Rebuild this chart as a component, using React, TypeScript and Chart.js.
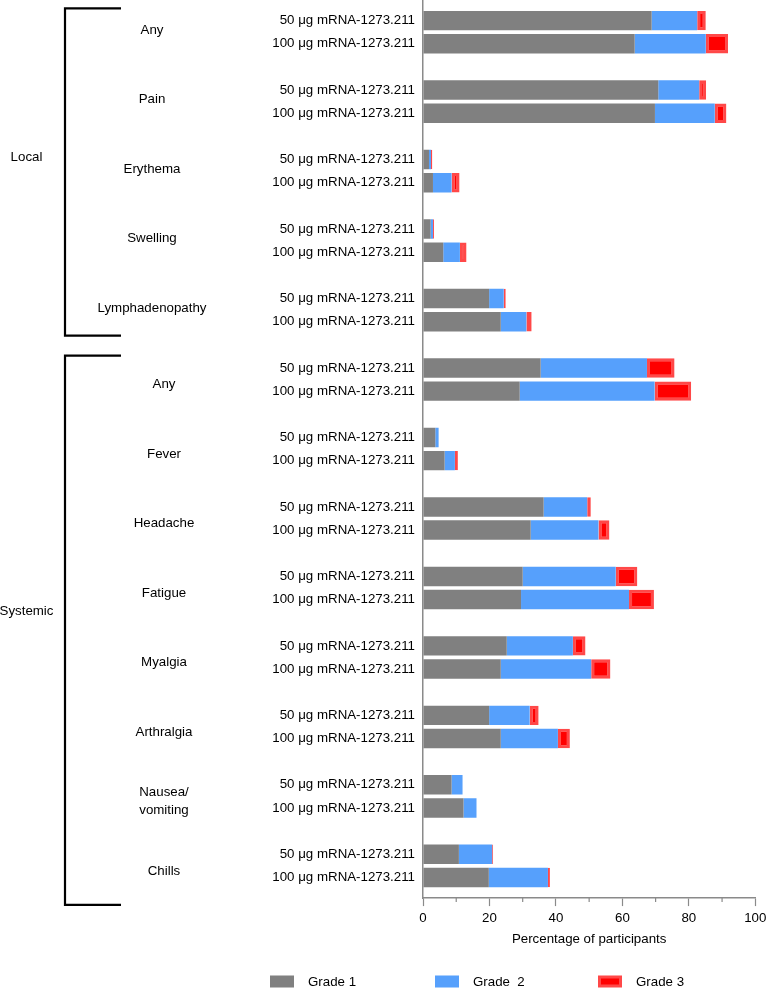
import React, { useEffect, useRef } from 'react';
import { Chart, registerables } from 'chart.js';

Chart.register(...registerables);

// ---------- data ----------
const localCategories = ['Any', 'Pain', 'Erythema', 'Swelling', 'Lymphadenopathy'];
const systemicCategories = ['Any', 'Fever', 'Headache', 'Fatigue', 'Myalgia', 'Arthralgia', 'Nausea/\nvomiting', 'Chills'];
const groupNames = ['Local', 'Systemic'];
const doseLabels = ['50 μg mRNA-1273.211', '100 μg mRNA-1273.211'];
const seriesNames = ['Grade 1', 'Grade  2', 'Grade 3'];
const xTicks = [0, 20, 40, 60, 80, 100];
const xMinorTicks = [10, 30, 50, 70, 90];
const axisTitle = 'Percentage of participants';

// one value per category (Local then Systemic), percent of participants
const grade1Dose50 = [68.8, 70.8, 1.8, 2.3, 19.9, 35.4, 3.7, 36.3, 30.0, 25.2, 19.9, 8.6, 10.8];
const grade1Dose100 = [63.7, 69.8, 3.0, 6.1, 23.4, 29.1, 6.5, 32.4, 29.5, 23.4, 23.4, 12.2, 19.8];
const grade2Dose50 = [13.7, 12.3, 0.6, 0.7, 4.4, 32.0, 1.0, 13.1, 28.0, 19.9, 12.2, 3.3, 10.0];
const grade2Dose100 = [21.4, 18.0, 5.6, 5.0, 7.7, 40.6, 3.1, 20.4, 32.5, 27.2, 17.2, 3.9, 17.8];
const grade3Dose50 = [2.6, 2.1, 0.4, 0.3, 0.6, 8.3, 0, 1.1, 6.5, 3.8, 2.7, 0, 0.3];
const grade3Dose100 = [6.7, 3.5, 2.4, 2.0, 1.6, 11.0, 0.9, 3.3, 7.5, 5.8, 3.6, 0, 0.6];

// ---------- styling / layout ----------
const FONT = '"Liberation Sans", Arial, Helvetica, sans-serif';
const FS = 13.3;
const GREY = '#808080';
const BLUE = '#56A0FC';
const RED = '#FF0000';
const RED_EDGE = '#FF4848';
const AXIS = '#8a8a8a';

const W = 766;
const H = 989;
const Y_MIN = -0.89;
const Y_MAX = 37.89;
const SLOTS = 3; // 50, 100, gap

const allCategories = [...localCategories, ...systemicCategories];
const groupOfCategory = allCategories.map((_, i) => (i < localCategories.length ? 0 : 1));

const rowPos = (g: number, dose: number) => g * SLOTS + dose;

const build = (d50: number[], d100: number[]) =>
  allCategories.flatMap((_, g) => [
    { x: d50[g], y: rowPos(g, 0) },
    { x: d100[g], y: rowPos(g, 1) },
  ]);

const tickPositions = allCategories.flatMap((_, g) => [rowPos(g, 0), rowPos(g, 1)]);

// bracket extents in y-axis units
const bracketSpans = [
  [-0.53, 13.6],
  [14.47, 38.18],
];
const groupLabelPos = [5.9, 25.5];
const groupLabelX = 26.5;
const categoryCenterX = [152, 164];
const categoryNudgeY = [-2, 5];
const bracketX = 65;
const bracketArm = 121;

const decorPlugin = {
  id: 'decor',
  afterDraw(chart: any) {
    const ctx = chart.ctx as CanvasRenderingContext2D;
    const ys = chart.scales.y;
    const xs = chart.scales.x;
    ctx.save();

    // brackets
    ctx.strokeStyle = '#000';
    ctx.lineWidth = 2.2;
    bracketSpans.forEach(([a, b]) => {
      const y0 = ys.getPixelForValue(a);
      const y1 = ys.getPixelForValue(b);
      ctx.beginPath();
      ctx.moveTo(bracketArm, y0);
      ctx.lineTo(bracketX, y0);
      ctx.lineTo(bracketX, y1);
      ctx.lineTo(bracketArm, y1);
      ctx.stroke();
    });

    ctx.fillStyle = '#000';
    ctx.font = `${FS}px ${FONT}`;
    ctx.textAlign = 'center';
    ctx.textBaseline = 'middle';

    // group labels
    groupNames.forEach((name, i) => {
      ctx.fillText(name, groupLabelX, ys.getPixelForValue(groupLabelPos[i]));
    });

    // category labels
    allCategories.forEach((name, g) => {
      const grp = groupOfCategory[g];
      const yc = ys.getPixelForValue(rowPos(g, 0.5)) + categoryNudgeY[grp];
      const lines = name.split('\n');
      const lh = 18;
      lines.forEach((ln, k) => {
        ctx.fillText(ln, categoryCenterX[grp], yc + (k - (lines.length - 1) / 2) * lh);
      });
    });

    // minor x ticks
    ctx.strokeStyle = AXIS;
    ctx.lineWidth = 1.2;
    const yb = chart.chartArea.bottom;
    xMinorTicks.forEach((v) => {
      const px = xs.getPixelForValue(v);
      ctx.beginPath();
      ctx.moveTo(px, yb);
      ctx.lineTo(px, yb + 4);
      ctx.stroke();
    });

    // legend
    const legendX = [270, 435, 598];
    const legendY = 981.5;
    chart.data.datasets.forEach((ds: any, i: number) => {
      const x = legendX[i];
      if (ds.borderWidth) {
        ctx.fillStyle = ds.borderColor;
        ctx.fillRect(x, legendY - 6, 24, 12);
        ctx.fillStyle = ds.backgroundColor;
        ctx.fillRect(x + 3, legendY - 3, 18, 6);
      } else {
        ctx.fillStyle = ds.backgroundColor;
        ctx.fillRect(x, legendY - 6, 24, 12);
      }
      ctx.fillStyle = '#000';
      ctx.textAlign = 'left';
      ctx.fillText(ds.label, x + 38, legendY + 1);
    });

    ctx.restore();
  },
};

export default function App() {
  const ref = useRef<HTMLCanvasElement | null>(null);

  useEffect(() => {
    if (!ref.current) return;
    Chart.defaults.font.family = FONT;
    Chart.defaults.font.size = FS;
    Chart.defaults.color = '#000';

    const common = { barPercentage: 0.84, categoryPercentage: 1 };
    const chart = new Chart(ref.current, {
      type: 'bar',
      data: {
        datasets: [
          { label: seriesNames[0], data: build(grade1Dose50, grade1Dose100), backgroundColor: GREY, borderWidth: 0, ...common },
          { label: seriesNames[1], data: build(grade2Dose50, grade2Dose100), backgroundColor: BLUE, borderWidth: 0, ...common },
          {
            label: seriesNames[2],
            data: build(grade3Dose50, grade3Dose100),
            backgroundColor: RED,
            borderColor: RED_EDGE,
            borderWidth: 3,
            borderSkipped: false,
            ...common,
          },
        ] as any,
      },
      options: {
        indexAxis: 'y',
        responsive: false,
        animation: false,
        layout: { padding: { left: 272, right: 10.7, top: 0, bottom: 42 } },
        plugins: { legend: { display: false }, tooltip: { enabled: false } },
        scales: {
          y: {
            type: 'linear',
            reverse: true,
            offset: false,
            min: Y_MIN,
            max: Y_MAX,
            stacked: true,
            afterBuildTicks: (scale: any) => {
              scale.ticks = tickPositions.map((v) => ({ value: v }));
            },
            afterFit: (scale: any) => {
              scale.width = 151;
              scale.paddingTop = 0;
              scale.paddingBottom = 0;
            },
            ticks: {
              autoSkip: false,
              padding: 8,
              color: '#000',
              font: { size: FS },
              callback: (v: any) => doseLabels[(((Math.round(v) % SLOTS) + SLOTS) % SLOTS)] ?? '',
            },
            grid: { offset: false, drawOnChartArea: false, drawTicks: false },
            border: { color: AXIS, width: 1.5 },
          },
          x: {
            type: 'linear',
            min: 0,
            max: 100,
            stacked: true,
            afterBuildTicks: (scale: any) => {
              scale.ticks = xTicks.map((v) => ({ value: v }));
            },
            afterFit: (scale: any) => {
              scale.paddingLeft = 0;
              scale.paddingRight = 0;
            },
            ticks: { padding: 4, color: '#000', font: { size: FS } },
            grid: { drawOnChartArea: false, tickLength: 8, tickColor: AXIS, tickWidth: 1.2 },
            border: { color: AXIS, width: 1.5 },
            title: { display: true, text: axisTitle, color: '#000', font: { size: FS }, padding: { top: 1, bottom: 0 } },
          },
        },
      } as any,
      plugins: [decorPlugin],
    });
    return () => chart.destroy();
  }, []);

  return (
    <div style={{ position: 'absolute', left: 0, top: 0, width: W, height: H, background: '#fff' }}>
      <canvas ref={ref} width={W} height={H} />
    </div>
  );
}
